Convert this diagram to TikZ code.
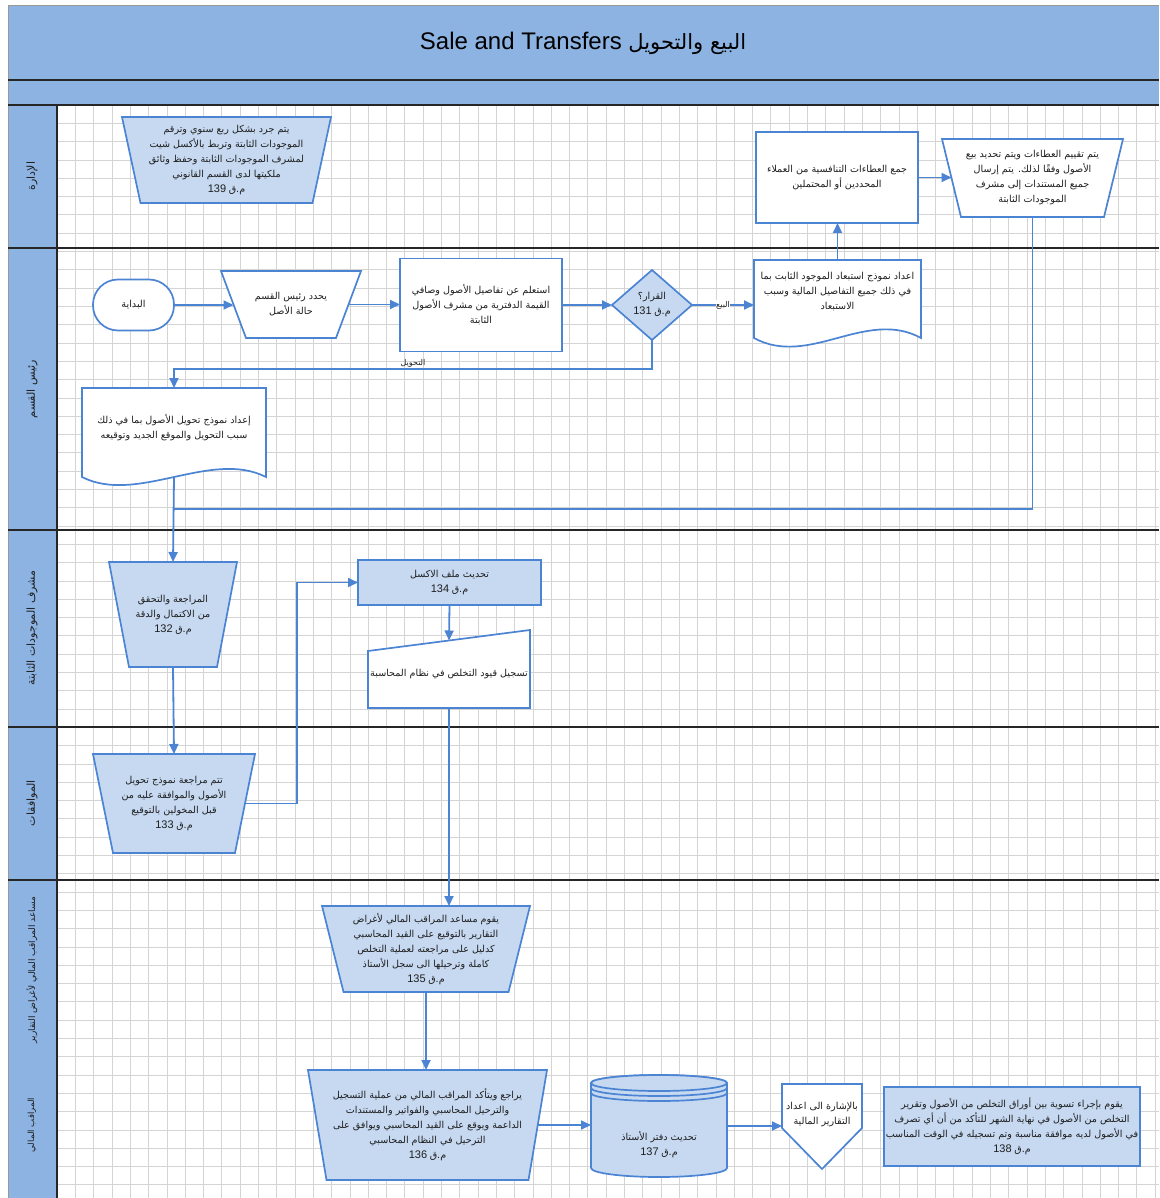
\documentclass[tikz,border=0pt]{standalone}
\usepackage{fontspec}
\setmainfont{Liberation Sans}
\newfontfamily\arabicfont[Script=Arabic]{DejaVu Sans}
\TeXXeTstate=1
\usetikzlibrary{arrows.meta,calc,backgrounds,shapes.geometric}

\definecolor{band}{HTML}{8DB3E2}
\definecolor{boxfill}{HTML}{C6D9F1}
\definecolor{edge}{HTML}{4C84D4}
\definecolor{gridc}{HTML}{D4D4D4}
\definecolor{textc}{HTML}{1E1E1E}

% Arabic run, right to left
\newcommand\ar[1]{{\arabicfont\beginR #1\endR}}
% procedure number
\newcommand\nm[1]{{\fontsize{11}{14}\selectfont #1}}
% inverted trapezium behind a text node (offset = half the slant)
\newcommand\trapshape[3]{%
  \begin{pgfonlayer}{background}
    \draw[#3] ($(#1.north west)+(-#2,0)$) -- ($(#1.north east)+(#2,0)$)
      -- ($(#1.south east)+(-#2,0)$) -- ($(#1.south west)+(#2,0)$) -- cycle;
  \end{pgfonlayer}}
% document shape: sides run #2 below the node, wavy bottom of height #3
\newcommand\docshape[3]{%
  \begin{pgfonlayer}{background}
    \draw[shp] ($(#1.south west)+(0,#2)$) -- (#1.north west) -- (#1.north east)
      -- ($(#1.south east)+(0,#2)$)
      .. controls +(-55,-#3) and +(55,#3) .. ($(#1.south west)+(0,#2)$) -- cycle;
  \end{pgfonlayer}}

\begin{document}
\begin{tikzpicture}[x=1pt,y=-1pt,
  txt/.style={draw=none, inner sep=0pt, outer sep=0pt, align=center,
    font=\fontsize{9.6}{15}\selectfont, text=textc},
  shp/.style={draw=edge, line width=1.7pt, fill=white},
  shpf/.style={draw=edge, line width=1.7pt, fill=boxfill},
  wire/.style={draw=edge, line width=1.8pt},
  conn/.style={wire, -{Triangle[length=10pt,width=9pt]}},
  elabel/.style={inner sep=0.6pt, font=\fontsize{8}{9}\selectfont, text=textc},
  lanetxt/.style={rotate=90, font=\fontsize{11}{12}\selectfont, text=textc},
  frame/.style={draw=black!85, line width=1.2pt}
]
\useasboundingbox (0,0) rectangle (1159,1198);

% ---------- frame, header, lanes, grid ----------
\begin{pgfonlayer}{background}
  \fill[white] (0,0) rectangle (1159,1198);
  \fill[band] (8,5) rectangle (1159,105);
  \fill[band] (8,105) rectangle (57,1198);
  \foreach \gx in {75.3,93.6,...,1159} \draw[gridc, line width=0.6pt] (\gx,105) -- (\gx,1198);
  \foreach \gy in {123.3,141.6,...,1198} \draw[gridc, line width=0.6pt] (57,\gy) -- (1159,\gy);
  \draw[draw=black!40, line width=0.6pt] (8,1198) -- (8,5) -- (1159,5);
  \draw[frame] (8,80) -- (1159,80);
  \draw[frame] (8,105) -- (1159,105);
  \foreach \ly in {248,530,727,880} \draw[frame] (8,\ly) -- (1159,\ly);
  \draw[frame] (57,105) -- (57,1198);
\end{pgfonlayer}

\node[font=\fontsize{24}{28}\selectfont, text=black] (title) at (583,43)
  {Sale and Transfers {\fontsize{21}{28}\selectfont\ar{البيع والتحويل}}};

\node[lanetxt] (lane1) at (32,176) {\ar{الإدارة}};
\node[lanetxt] (lane2) at (32,389) {\ar{رئيس القسم}};
\node[lanetxt] (lane3) at (32,628) {\ar{مشرف الموجودات الثابتة}};
\node[lanetxt] (lane4) at (32,803) {\ar{الموافقات}};
\node[lanetxt, font=\fontsize{9}{10}\selectfont] (lane5) at (32,970) {\ar{مساعد المراقب المالي لأغراض التقارير}};
\node[lanetxt, font=\fontsize{8.5}{10}\selectfont] (lane6) at (32,1125) {\ar{المراقب المالي}};

% ---------- management ----------
\node[txt, minimum width=190.5, minimum height=86] (s139) at (226.5,160)
  {\ar{يتم جرد بشكل ربع سنوي وترقم}\\
   \ar{الموجودات الثابتة وتربط بالأكسل شيت}\\
   \ar{لمشرف الموجودات الثابتة وحفظ وثائق}\\
   \ar{ملكيتها لدى القسم القانوني}\\
   \nm{139} \ar{م.ق}};
\trapshape{s139}{9.25}{shpf}

\node[txt, shp, minimum width=162, minimum height=91] (bids) at (837,177.5)
  {\ar{جمع العطاءات التنافسية من العملاء}\\
   \ar{المحددين أو المحتملين}};

\node[txt, minimum width=162, minimum height=78] (evalb) at (1032.5,178)
  {\ar{يتم تقييم العطاءات ويتم تحديد بيع}\\
   \ar{الأصول وفقًا لذلك. يتم إرسال}\\
   \ar{جميع المستندات إلى مشرف}\\
   \ar{الموجودات الثابتة}};
\trapshape{evalb}{9.5}{shp}

% ---------- head of department ----------
\node[txt, shp, rounded corners=25, minimum width=81, minimum height=51] (start) at (133.5,305)
  {\ar{البداية}};

\node[txt, minimum width=115, minimum height=67] (status) at (291,304.5)
  {\ar{يحدد رئيس القسم}\\ \ar{حالة الأصل}};
\trapshape{status}{12.5}{shp}

\node[txt, shp, minimum width=162, minimum height=93] (inq) at (481,305)
  {\ar{استعلم عن تفاصيل الأصول وصافي}\\
   \ar{القيمة الدفترية من مشرف الأصول}\\
   \ar{الثابتة}};

\node[txt, shpf, diamond, minimum width=80, minimum height=70] (dec) at (652,305)
  {\ar{القرار؟}\\ \nm{131} \ar{م.ق}};

\node[txt, minimum width=167, minimum height=64] (dispform) at (837.5,292)
  {\ar{اعداد نموذج استبعاد الموجود الثابت بما}\\
   \ar{في ذلك جميع التفاصيل المالية وسبب}\\
   \ar{الاستبعاد}};
\docshape{dispform}{14}{30}

\node[txt, minimum width=184, minimum height=79] (trform) at (174,427.5)
  {\ar{إعداد نموذج تحويل الأصول بما في ذلك}\\
   \ar{سبب التحويل والموقع الجديد وتوقيعه}};
\docshape{trform}{10}{28}

% ---------- fixed assets supervisor ----------
\node[txt, minimum width=108, minimum height=105] (s132) at (173,614.5)
  {\ar{المراجعة والتحقق}\\ \ar{من الاكتمال والدقة}\\ \nm{132} \ar{م.ق}};
\trapshape{s132}{10}{shpf}

\node[txt, shpf, minimum width=183, minimum height=45] (s134) at (449.5,582.5)
  {\ar{تحديث ملف الاكسل}\\ \nm{134} \ar{م.ق}};

\node[txt, minimum width=162, minimum height=67.5] (post) at (449,674.25)
  {\ar{تسجيل قيود التخلص في نظام المحاسبة}};
\begin{pgfonlayer}{background}
  \draw[shp] (post.south west) -- ($(post.north west)+(0,10.5)$)
    -- ($(post.north east)+(0,-10.5)$) -- (post.south east) -- cycle;
\end{pgfonlayer}

% ---------- approvals ----------
\node[txt, minimum width=142, minimum height=99] (s133) at (174,803.5)
  {\ar{تتم مراجعة نموذج تحويل}\\
   \ar{الأصول والموافقة عليه من}\\
   \ar{قبل المخولين بالتوقيع}\\
   \nm{133} \ar{م.ق}};
\trapshape{s133}{10}{shpf}

% ---------- financial controller ----------
\node[txt, minimum width=186.5, minimum height=86] (s135) at (426,949)
  {\ar{يقوم مساعد المراقب المالي لأغراض}\\
   \ar{التقارير بالتوقيع على القيد المحاسبي}\\
   \ar{كدليل على مراجعته لعملية التخلص}\\
   \ar{كاملة وترحيلها الى سجل الأستاذ}\\
   \nm{135} \ar{م.ق}};
\trapshape{s135}{10.75}{shpf}

\node[txt, minimum width=220.5, minimum height=110] (s136) at (427.5,1125)
  {\ar{يراجع ويتأكد المراقب المالي من عملية التسجيل}\\
   \ar{والترحيل المحاسبي والفواتير والمستندات}\\
   \ar{الداعمة ويوقع على القيد المحاسبي ويوافق على}\\
   \ar{الترحيل في النظام المحاسبي}\\
   \nm{136} \ar{م.ق}};
\trapshape{s136}{9.25}{shpf}

% ledger drum
\node[txt, minimum width=136, minimum height=102] (ledger) at (659,1126) {};
\begin{pgfonlayer}{background}
  \draw[shpf] (591,1083) -- (591,1168)
    .. controls (591,1173) and (621.5,1177) .. (659,1177)
    .. controls (696.5,1177) and (727,1173) .. (727,1168) -- (727,1083)
    .. controls (727,1078.6) and (696.5,1075) .. (659,1075)
    .. controls (621.5,1075) and (591,1078.6) .. (591,1083) -- cycle;
  \draw[shpf] (659,1083) ellipse [x radius=68, y radius=8];
  \foreach \ry in {1088,1093}
    \draw[draw=edge, line width=1.7pt] (591,\ry)
      .. controls (591,\ry+4.4) and (621.5,\ry+8) .. (659,\ry+8)
      .. controls (696.5,\ry+8) and (727,\ry+4.4) .. (727,\ry);
\end{pgfonlayer}
\node[txt] (ledgertxt) at (659,1145) {\ar{تحديث دفتر الأستاذ}\\ \nm{137} \ar{م.ق}};

% off-page reference
\node[txt, minimum width=80, minimum height=62] (offref) at (822,1115)
  {\ar{بالإشارة الى اعداد}\\ \ar{التقارير المالية}};
\begin{pgfonlayer}{background}
  \draw[shp] (offref.north west) -- (offref.north east)
    -- ($(offref.south east)+(0,-18)$) -- ($(offref.south)+(0,23)$)
    -- ($(offref.south west)+(0,-18)$) -- cycle;
\end{pgfonlayer}

\node[txt, shpf, minimum width=256, minimum height=79] (s138) at (1012,1126.5)
  {\ar{يقوم بإجراء تسوية بين أوراق التخلص من الأصول وتقرير}\\
   \ar{التخلص من الأصول في نهاية الشهر للتأكد من أن أي تصرف}\\
   \ar{في الأصول لديه موافقة مناسبة وتم تسجيله في الوقت المناسب}\\
   \nm{138} \ar{م.ق}};

% ---------- connectors ----------
\coordinate (j1) at (174,509);
\coordinate (j2) at (174,369);
\coordinate (j3) at (297,582.5);

\draw[conn] (start.east) -- (start.east -| status.west);
\draw[conn] (status.east) -- (status.east -| inq.west);
\draw[conn] (inq.east) -- (inq.east -| dec.west);
\draw[conn] (dec.east) -- node[elabel, fill=white] {\ar{البيع}} (dec.east -| dispform.west);
\draw[conn] (dispform.north) -- (dispform.north |- bids.south);
\draw[conn] (bids.east) -- (bids.east -| evalb.west);
\draw[wire] (evalb.south) |- (j1);
\draw[conn] (dec.south) |- node[elabel, pos=0.75, anchor=south] {\ar{التحويل}} (j2) -- (trform.north);
\draw[conn] ($(trform.south)+(0,10)$) -- (s132.north);
\draw[conn] (s132.south) -- (s133.north);
\draw[conn] (s133.east) -| (j3) -- (s134.west);
\draw[conn] (s134.south) -- (post.north);
\draw[conn] (post.south) -- (post.south |- s135.north);
\draw[conn] (s135.south) -- (s135.south |- s136.north);
\draw[conn] (s136.east) -- (s136.east -| ledger.west);
\draw[conn] (ledger.east) -- (ledger.east -| offref.west);
\end{tikzpicture}
\end{document}
